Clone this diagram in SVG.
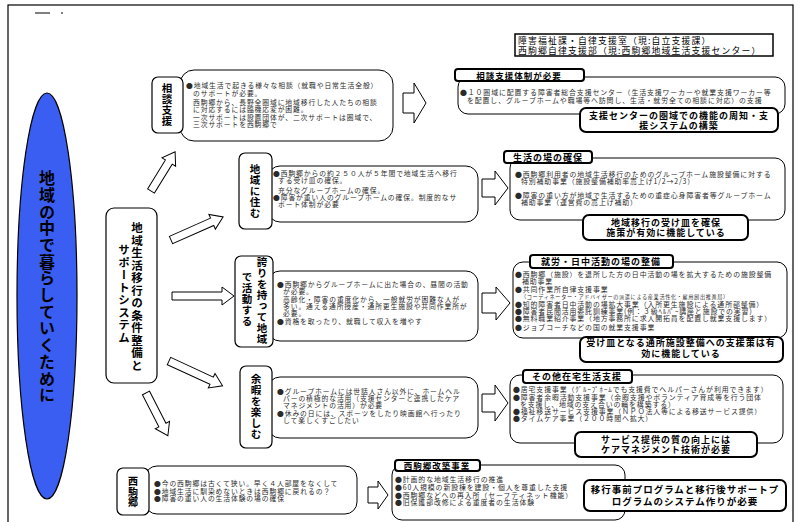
<svg xmlns="http://www.w3.org/2000/svg" width="803" height="522" viewBox="0 0 803 522">
<style>
.lb{fill:#fff;stroke:#000;stroke-width:1.2}
.ct{fill:#fff;stroke:#000;stroke-width:1}
.tb{fill:#fff;stroke:#000;stroke-width:2}
.ar{fill:#fff;stroke:#000;stroke-width:1}
text{font-family:"Noto Sans CJK JP","Noto Sans CJK SC",sans-serif}
.s{font-size:6.8px;letter-spacing:0.9px;fill:#2a2a2a}
.w{font-size:6.9px;letter-spacing:0.9px;fill:#2a2a2a}
.h{font-size:9px;letter-spacing:1px;font-weight:bold;text-anchor:middle;fill:#000}
.v{writing-mode:vertical-rl;text-anchor:middle;font-weight:bold;font-size:10.5px;letter-spacing:0.5px;fill:#000}
</style>
<rect x="8" y="5" width="785" height="530" fill="#fff" stroke="#000" stroke-width="1.2"/>
<line x1="35" y1="13" x2="50" y2="13" stroke="#000" stroke-width="1"/>
<line x1="61" y1="13" x2="63" y2="13" stroke="#000" stroke-width="1"/>

<g id="goal">
<ellipse cx="47" cy="296" rx="30" ry="203" fill="#3b5ef2" stroke="#000" stroke-width="1.2"/>
<text class="v" x="47" y="287" style="font-size:16px;letter-spacing:0.7px">地域の中で暮らしていくために</text>
</g>

<g id="center">
<rect x="106" y="208" width="51" height="175" rx="8" class="lb"/>
<text class="v" x="137" y="297" style="font-size:11.5px;letter-spacing:1px">地域生活移行の条件整備と</text>
<text class="v" x="124" y="294" style="font-size:11.5px;letter-spacing:1px">サポートシステム</text>
</g>

<g id="connectors">
<polygon class="ar" transform="translate(151,191) rotate(-58.4)" points="0,-4 34,-4 34,-8 46,0 34,8 34,4 0,4"/>
<polygon class="ar" transform="translate(171,240) rotate(-23.9)" points="0,-4 45,-4 45,-8 57,0 45,8 45,4 0,4"/>
<polygon class="ar" transform="translate(172,296)" points="0,-4 50,-4 50,-9 62,0 50,9 50,4 0,4"/>
<polygon class="ar" transform="translate(169,361) rotate(24.8)" points="0,-4 47,-4 47,-8 59,0 47,8 47,4 0,4"/>
<polygon class="ar" transform="translate(146,393) rotate(62.9)" points="0,-4 36,-4 36,-8 48,0 36,8 36,4 0,4"/>
<polygon class="ar" points="403,93 414,93 414,83 426,103 414,123 414,113 403,113"/>
<polygon class="ar" points="482,179 495,179 495,171 508,188 495,205 495,197 482,197"/>
<polygon class="ar" points="482,293 496,293 496,287 510,303 496,320 496,313 482,313"/>
<polygon class="ar" points="482,394 495,394 495,385 508,403 495,421 495,412 482,412"/>
<polygon class="ar" points="368,487 378,487 378,481 388,495 378,509 378,503 368,503"/>
</g>

<g id="soudan">
<rect x="180" y="70" width="213" height="71" rx="14" class="ct"/>
<rect x="152" y="77" width="31" height="56" rx="6" class="lb"/>
<text class="v" x="167" y="105">相談支援</text>
<text class="s" x="186" y="88">●地域生活で起きる様々な相談（就職や日常生活全般）</text>
<text class="s" x="193" y="96">のサポートが必要。</text>
<text class="s" x="193" y="105">西駒郷から、長野全圏域に地域移行した人たちの相談</text>
<text class="s" x="193" y="112">に対応するには臨機応変が困難。</text>
<text class="s" x="193" y="119.5">一次サポートは設置団体が、二次サポートは圏域で、</text>
<text class="s" x="193" y="127">三次サポートを西駒郷で</text>
</g>

<g id="sumu">
<rect x="268" y="166" width="210" height="56" rx="12" class="ct"/>
<rect x="239" y="153" width="33" height="76" rx="6" class="lb"/>
<text class="v" x="255" y="191">地域に住む</text>
<text class="s" x="273" y="176">●西駒郷からの約２５０人が５年間で地域生活へ移行</text>
<text class="s" x="278" y="183">する受け皿の確保。</text>
<text class="s" x="278" y="192.5">充分なグループホームの確保。</text>
<text class="s" x="273" y="199.5">●障害が重い人のグループホームの確保。制度的なサ</text>
<text class="s" x="278" y="206.5">ポート体制が必要</text>
</g>

<g id="hokori">
<rect x="268" y="271" width="210" height="70" rx="12" class="ct"/>
<rect x="235" y="256" width="38" height="91" rx="6" class="lb"/>
<text class="v" x="262" y="301">誇りを持って地域</text>
<text class="v" x="247" y="299">で活動する</text>
<text class="s" x="277" y="287">●西駒郷からグループホームに出た場合の、昼間の活動</text>
<text class="s" x="283" y="294">が必要。</text>
<text class="s" x="283" y="302">高齢化・障害の重度化から、一般就労が困難な人が</text>
<text class="s" x="283" y="309">多い。通える通所授産・通所更生施設や共同作業所が</text>
<text class="s" x="283" y="316">必要。</text>
<text class="s" x="277" y="324">●資格を取ったり、就職して収入を増やす</text>
</g>

<g id="yoka">
<rect x="268" y="377" width="210" height="61" rx="12" class="ct"/>
<rect x="240" y="366" width="32" height="82" rx="6" class="lb"/>
<text class="v" x="256" y="407">余暇を楽しむ</text>
<text class="s" x="277" y="394">●グループホームには世話人さん以外に、ホームヘル</text>
<text class="s" x="283" y="401">パーの積極的な活用（支援センターと連携したケア</text>
<text class="s" x="283" y="408">マネジメントの活用）が必要</text>
<text class="s" x="277" y="416">●休みの日には、スポーツをしたり映画館へ行ったり</text>
<text class="s" x="283" y="423">して楽しくすごしたい</text>
</g>

<g id="nishikoma">
<rect x="145" y="466" width="212" height="48" rx="12" class="ct"/>
<rect x="117" y="468" width="32" height="47" rx="6" class="lb"/>
<text class="v" x="133" y="492" style="font-size:10px">西駒郷</text>
<text class="s" x="154" y="486">●今の西駒郷は古くて狭い。早く４人部屋をなくして</text>
<text class="s" x="154" y="494">●地域生活に馴染めないときは西駒郷に戻れるの？</text>
<text class="s" x="154" y="501">●障害の重い人の生活体験の場の確保</text>
</g>

<g id="org">
<rect x="515" y="34" width="258" height="22" fill="#fff" stroke="#000" stroke-width="1.5"/>
<text x="518" y="44" style="font-size:8.8px;letter-spacing:1.2px;fill:#000">障害福祉課・自律支援室（現:自立支援課）</text>
<text x="518" y="53.5" style="font-size:8.8px;letter-spacing:1.2px;fill:#000">西駒郷自律支援部（現:西駒郷地域生活支援センター）</text>
</g>

<g id="r-soudan">
<rect x="458" y="77" width="327" height="37" rx="10" class="ct"/>
<rect x="455" y="69" width="129" height="12" rx="3" class="tb"/>
<text class="h" x="519" y="78.5" style="font-size:8.5px">相談支援体制が必要</text>
<text class="w" x="460" y="95">●１０圏域に配置する障害者総合支援センター（生活支援ワーカーや就業支援ワーカー等</text>
<text class="w" x="467" y="103">を配置し、グループホームや職場等へ訪問し、生活・就労全ての相談に対応）の支援</text>
<rect x="580" y="108" width="198" height="24" rx="6" class="tb"/>
<text class="h" x="679" y="119">支援センターの圏域での機能の周知・支</text>
<text class="h" x="679" y="128.5">援システムの構築</text>
</g>

<g id="r-seikatsu">
<rect x="510" y="158" width="275" height="62" rx="10" class="ct"/>
<rect x="504" y="151" width="88" height="12" rx="3" class="tb"/>
<text class="h" x="548" y="160.5">生活の場の確保</text>
<text class="w" x="515" y="177">●西駒郷利用者の地域生活移行のためのグループホーム施設整備に対する</text>
<text class="w" x="521" y="184">特別補助事業（施設整備補助率嵩上げ1/2→2/3）</text>
<text class="w" x="515" y="198">●障害の重い方が地域で生活するための重症心身障害者等グループホーム</text>
<text class="w" x="521" y="205">補助事業（運営費の嵩上げ補助）</text>
<rect x="583" y="215" width="165" height="25" rx="6" class="tb"/>
<text class="h" x="666" y="226">地域移行の受け皿を確保</text>
<text class="h" x="666" y="236">施策が有効に機能している</text>
</g>

<g id="r-shuro">
<rect x="513" y="262" width="274" height="76" rx="10" class="ct"/>
<rect x="530" y="255" width="143" height="13" rx="3" class="tb"/>
<text class="h" x="601" y="265">就労・日中活動の場の整備</text>
<text class="w" x="515" y="277">●西駒郷（施設）を退所した方の日中活動の場を拡大するための施設整備</text>
<text class="w" x="522" y="284">補助事業</text>
<text class="w" x="515" y="292">●共同作業所自律支援事業</text>
<text class="w" x="521" y="299" style="font-size:5.2px;letter-spacing:0.6px">（コーディネーター・アドバイザーの派遣による産業活性化・雇用創出推進局）</text>
<text class="w" x="515" y="307">●知的障害者日中活動の場拡大事業（入所更生施設による通所部整備）</text>
<text class="w" x="515" y="314">●障害者民間活用委託訓練事業(例：３級ﾍﾙﾊﾟｰ講座と施設での実習)</text>
<text class="w" x="515" y="321">●無料職業紹介事業（地方事務所に求人開拓員を配置し就業支援します）</text>
<text class="w" x="515" y="330">●ジョブコーチなどの国の就業支援事業</text>
<rect x="580" y="337" width="203" height="25" rx="6" class="tb"/>
<text class="h" x="681" y="346">受け皿となる通所施設整備への支援策は有</text>
<text class="h" x="681" y="357">効に機能している</text>
</g>

<g id="r-zaitaku">
<rect x="510" y="375" width="273" height="68" rx="10" class="ct"/>
<rect x="523" y="370" width="109" height="13" rx="3" class="tb"/>
<text class="h" x="577" y="380">その他在宅生活支援</text>
<text class="w" x="513" y="392">●居宅支援事業（ｸﾞﾙｰﾌﾟﾎｰﾑでも支援費でヘルパーさんが利用できます）</text>
<text class="w" x="513" y="400">●障害者余暇活動支援事業（余暇支援やボランティア育成等を行う団体</text>
<text class="w" x="520" y="406.5">を支援し、地域の支え合いの輪を構築する）</text>
<text class="w" x="513" y="413.5">●福祉移送サービス支援事業（ＮＰＯ法人等による移送サービス提供）</text>
<text class="w" x="513" y="420.5">●タイムケア事業（２００時間へ拡大）</text>
<rect x="575" y="432" width="182" height="25" rx="6" class="tb"/>
<text class="h" x="666" y="443">サービス提供の質の向上には</text>
<text class="h" x="666" y="453">ケアマネジメント技術が必要</text>
</g>

<g id="r-kaichiku">
<rect x="392" y="465" width="233" height="55" rx="10" class="ct"/>
<rect x="395" y="460" width="85" height="11" rx="3" class="tb"/>
<text class="h" x="437" y="469" style="font-size:8.5px">西駒郷改築事業</text>
<text class="w" x="395" y="482">●計画的な地域生活移行の推進</text>
<text class="w" x="395" y="490">●60人規模の新設棟を建設・個人を尊重した支援</text>
<text class="w" x="395" y="497.5">●西駒郷などへの再入所（セーフティネット機能）</text>
<text class="w" x="395" y="505">●旧保護部改修による重度者の生活体験</text>
<rect x="584" y="480" width="202" height="31" rx="6" class="tb"/>
<text class="h" x="685" y="493" style="font-size:9.5px">移行事前プログラムと移行後サポートプ</text>
<text class="h" x="685" y="505" style="font-size:9.5px">ログラムのシステム作りが必要</text>
</g>
</svg>
